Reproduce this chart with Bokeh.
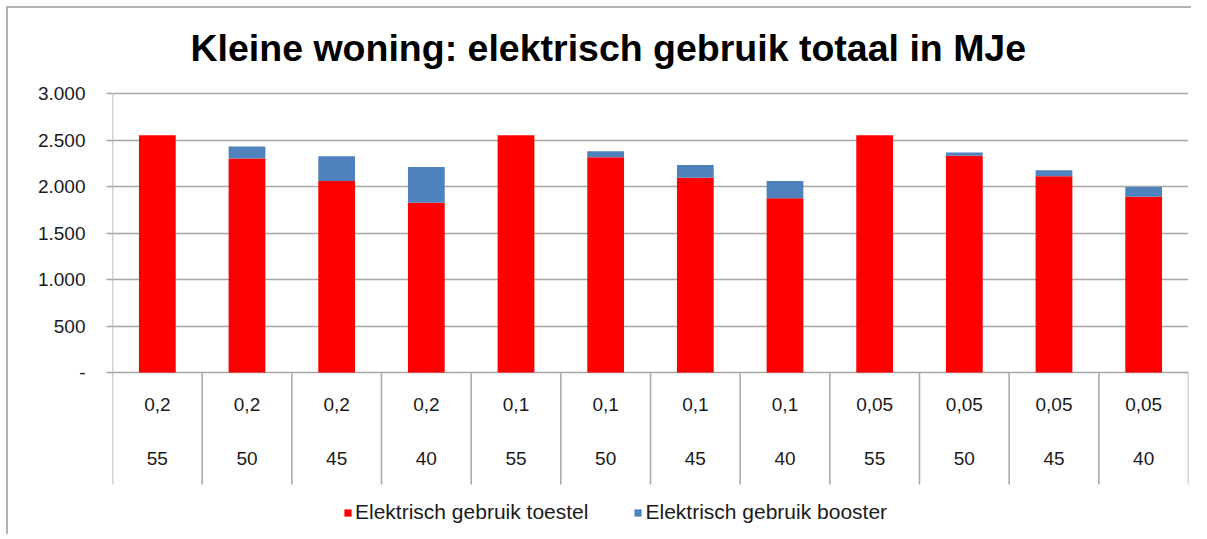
from bokeh.plotting import figure
from bokeh.models import (FixedTicker, LinearAxis, Range1d, Legend, LegendItem,
                          ColumnDataSource, Grid)
from bokeh.core.properties import value
from bokeh.embed import file_html
from bokeh.resources import INLINE

# ---- data ----
fractie = ["0,2", "0,2", "0,2", "0,2", "0,1", "0,1", "0,1", "0,1",
           "0,05", "0,05", "0,05", "0,05"]
temperatuur = ["55", "50", "45", "40", "55", "50", "45", "40",
               "55", "50", "45", "40"]
toestel = [2550, 2300, 2060, 1825, 2550, 2315, 2095, 1875, 2550, 2330, 2110, 1890]
booster = [0, 130, 265, 385, 0, 65, 135, 185, 0, 35, 65, 105]
y_ticks = [0, 500, 1000, 1500, 2000, 2500, 3000]
y_tick_labels = ["-", "500", "1.000", "1.500", "2.000", "2.500", "3.000"]
series_names = ["Elektrisch gebruik toestel", "Elektrisch gebruik booster"]
title_text = "Kleine woning: elektrisch gebruik totaal in MJe"

FONT = "Liberation Sans"
RED = "#FF0000"
BLUE = "#4F81BD"
GRID = "#a6a6a6"
TXT = "#1a1a1a"

# ---- layout constants (pixels) ----
W, H = 1185, 528
TOP = 85            # space above the 3000 line
LEFT = 104
AXIS_PX = 279       # pixels from 0 to 3000
SEP_PX = 112        # separator length below the category axis
YMAX = y_ticks[-1]
px = YMAX / AXIS_PX                 # data units per pixel
below_px = H - TOP - AXIS_PX
ymin = -below_px * px
ytop = YMAX + TOP * px
sep_end = -SEP_PX * px

n = len(toestel)
centers = [i + 0.5 for i in range(n)]
bounds = list(range(n + 1))
top_total = [a + b for a, b in zip(toestel, booster)]
src = ColumnDataSource(dict(x=centers, toestel=toestel, total=top_total,
                            fr=fractie, tp=temperatuur))

p = figure(width=W, height=H, output_backend="svg", toolbar_location=None,
           x_range=Range1d(0, n), y_range=Range1d(ymin, ytop),
           x_axis_type=None, y_axis_type=None,
           min_border_left=LEFT, min_border_right=5, min_border_top=0,
           min_border_bottom=0)
p.outline_line_color = None
p.background_fill_color = "white"
p.border_fill_color = "white"
p.styles = {"border-top": "2px solid #b4b4b4", "border-left": "2px solid #b4b4b4",
            "margin-left": "6px", "margin-top": "6px"}

# horizontal grid (includes the category axis line at 0)
grid = Grid(dimension=1, ticker=FixedTicker(ticks=y_ticks), grid_line_color=GRID,
            grid_line_width=1.5)
p.add_layout(grid)

# value axis line + category separators
p.segment(x0=[bounds[0]], y0=[sep_end], x1=[bounds[0]], y1=[YMAX],
          line_color=GRID, line_width=1.5)
p.segment(x0=bounds[1:], y0=[sep_end] * n, x1=bounds[1:], y1=[0] * n,
          line_color=GRID, line_width=1.5)

r1 = p.vbar(x="x", bottom=0, top="toestel", width=0.41, source=src,
            fill_color=RED, line_color=None)
r2 = p.vbar(x="x", bottom="toestel", top="total", width=0.41, source=src,
            fill_color=BLUE, line_color=None)

# category labels (two rows)
p.text(x="x", y=0, text="fr", source=src, y_offset=32, text_align="center",
       text_baseline="middle", text_font=value(FONT), text_font_size="19px",
       text_color=TXT)
p.text(x="x", y=0, text="tp", source=src, y_offset=86, text_align="center",
       text_baseline="middle", text_font=value(FONT), text_font_size="19px",
       text_color=TXT)

# chart title
p.text(x=[bounds[0]], y=[YMAX], text=[title_text], x_offset=78, y_offset=-46,
       text_align="left", text_baseline="middle", text_font=value(FONT),
       text_font_size="37.5px", text_font_style="bold", text_color="black")

# y axis
yax = LinearAxis(ticker=FixedTicker(ticks=y_ticks, minor_ticks=[]))
yax.major_label_overrides = {t: l for t, l in zip(y_ticks, y_tick_labels)}
yax.axis_line_color = None
yax.major_tick_line_color = GRID
yax.major_tick_line_width = 1.5
yax.major_tick_out = 6
yax.major_tick_in = 0
yax.major_label_standoff = 21
yax.major_label_text_font = FONT
yax.major_label_text_font_size = "19px"
yax.major_label_text_color = TXT
p.add_layout(yax, "left")

legend = Legend(items=[LegendItem(label=series_names[0], renderers=[r1]),
                       LegendItem(label=series_names[1], renderers=[r2])],
                orientation="horizontal", location=(231, 12))
legend.background_fill_alpha = 0
legend.border_line_color = None
legend.padding = 0
legend.margin = 0
legend.spacing = 45
legend.glyph_width = 9
legend.glyph_height = 9
legend.label_standoff = 3
legend.label_text_font = FONT
legend.label_text_font_size = "21px"
legend.label_text_color = TXT
p.add_layout(legend, "center")

open("out.html", "w").write(file_html(p, INLINE))
